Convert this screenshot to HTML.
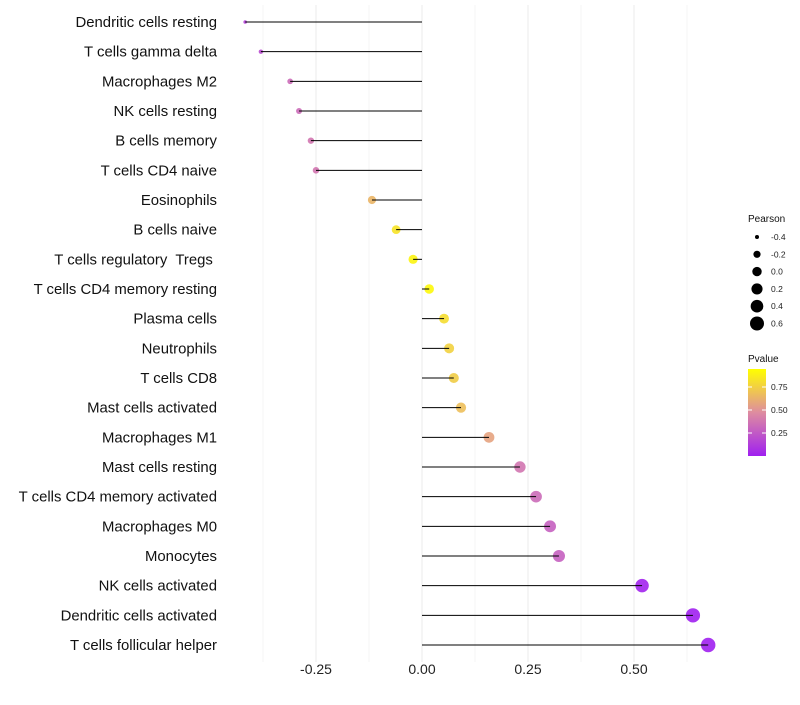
<!DOCTYPE html>
<html><head><meta charset="utf-8"><style>
body{margin:0;background:#fff;font-family:"Liberation Sans",sans-serif}
text{white-space:pre}
</style></head><body>
<svg id="c" width="800" height="700" xmlns="http://www.w3.org/2000/svg"></svg>
<script>
const categories=["Dendritic cells resting","T cells gamma delta","Macrophages M2","NK cells resting","B cells memory","T cells CD4 naive","Eosinophils","B cells naive","T cells regulatory  Tregs ","T cells CD4 memory resting","Plasma cells","Neutrophils","T cells CD8","Mast cells activated","Macrophages M1","Mast cells resting","T cells CD4 memory activated","Macrophages M0","Monocytes","NK cells activated","Dendritic cells activated","T cells follicular helper"];
const pearson=[-0.417,-0.38,-0.311,-0.29,-0.262,-0.25,-0.118,-0.061,-0.021,0.017,0.052,0.064,0.075,0.092,0.158,0.231,0.269,0.302,0.323,0.519,0.639,0.675];
const pvalue=[0.15,0.2,0.35,0.35,0.4,0.4,0.68,0.88,0.95,0.97,0.85,0.8,0.78,0.72,0.6,0.4,0.35,0.3,0.3,0.02,0.002,0.001];
const xTicks=[-0.25,0,0.25,0.5];
const xTickLabels=["-0.25","0.00","0.25","0.50"];
const sizeLegend=[-0.4,-0.2,0,0.2,0.4,0.6];
const colorTicks=[0.25,0.5,0.75];
const NS="http://www.w3.org/2000/svg";
const svg=document.getElementById('c');
const x=v=>422+v*424;
const y=i=>22+i*(623/21);
const r=v=>Math.sqrt(Math.max(1,22+45*v));
const stops=[[0,[160,32,240]],[0.5,[222,140,160]],[1,[255,255,0]]];
function col(p){let i=p<=0.5?0:1;const [p0,a]=stops[i],[p1,b]=stops[i+1];const t=(p-p0)/(p1-p0);return `rgb(${a.map((c,k)=>Math.round(c+(b[k]-c)*t)).join(',')})`;}
function el(t,at,txt){const e=document.createElementNS(NS,t);for(const k in at)e.setAttribute(k,at[k]);if(txt!=null)e.textContent=txt;svg.appendChild(e);return e;}
for(let v=-0.375;v<=0.63;v+=0.125){const g=el('line',{x1:x(v),x2:x(v),y1:5,y2:662,stroke:'#ebebeb','stroke-width':Math.abs(v/0.25-Math.round(v/0.25))<1e-6?1:0.5});

}
xTicks.forEach((v,i)=>{const t=el('text',{x:x(v),y:674,'text-anchor':'middle','font-size':14,fill:'#222'},xTickLabels[i]);

});
categories.forEach((c,i)=>{
const t=el('text',{x:217,y:y(i)+5,'text-anchor':'end','font-size':14.9,fill:'#111'},c);


const d=el('circle',{cx:x(pearson[i]),cy:y(i),r:r(pearson[i]),fill:col(pvalue[i]),'fill-opacity':0.9});


const l=el('line',{x1:x(0),x2:x(pearson[i]),y1:y(i),y2:y(i),stroke:'#000','stroke-width':1});


});
const lt=el('text',{x:748,y:222,'font-size':10,fill:'#111'},'Pearson');


sizeLegend.forEach((v,i)=>{const cy=237+i*17.3;
const d=el('circle',{cx:757,cy:cy,r:r(v),fill:'#000'});


const t=el('text',{x:771,y:cy+3,'font-size':8.5,fill:'#222'},v.toFixed(1));

});
const ct=el('text',{x:748,y:362,'font-size':10,fill:'#111'},'Pvalue');


const defs=el('defs',{});
const lg=document.createElementNS(NS,'linearGradient');lg.setAttribute('id','g');lg.setAttribute('x1',0);lg.setAttribute('y1',1);lg.setAttribute('x2',0);lg.setAttribute('y2',0);
[0,0.25,0.5,0.75,1].forEach(s=>{const st=document.createElementNS(NS,'stop');st.setAttribute('offset',s);st.setAttribute('stop-color',col(s));lg.appendChild(st);});
defs.appendChild(lg);
const bar=el('rect',{x:748,y:369,width:18,height:87,fill:'url(#g)'});


const cy=p=>456-p*92;
colorTicks.forEach(p=>{el('line',{x1:748,x2:752,y1:cy(p),y2:cy(p),stroke:'#fff'});el('line',{x1:762,x2:766,y1:cy(p),y2:cy(p),stroke:'#fff'});
const t=el('text',{x:771,y:cy(p)+3,'font-size':8.5,fill:'#222'},p.toFixed(2));

});
</script>
</body></html>
